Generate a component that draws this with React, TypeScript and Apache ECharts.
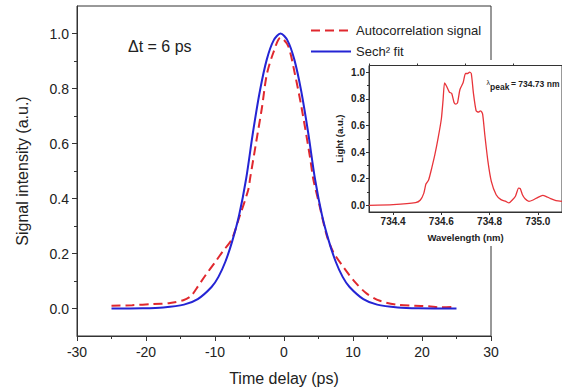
import React, { useEffect, useRef } from "react";
import * as echarts from "echarts";

// Main chart: autocorrelation trace (time delay in ps, normalized signal)
const acTime = [-25, -22, -19, -16.5, -14.6, -13.5, -12.7, -11.4, -10.0, -8.8, -7.6, -6.5, -5.2, -4.9, -4.0, -3.2, -2.5, -1.55, -0.5, 0.6, 1.6, 2.55, 3.77, 4.25, 5.0, 6.2, 7.15, 8.8, 10.3, 12.0, 13.9, 16.3, 19.0, 21.0, 22.5, 24.8];
const acSignal = [0.01, 0.012, 0.016, 0.02, 0.03, 0.045, 0.072, 0.12, 0.168, 0.21, 0.25, 0.33, 0.43, 0.475, 0.61, 0.73, 0.85, 0.93, 0.985, 0.955, 0.85, 0.73, 0.55, 0.47, 0.39, 0.265, 0.205, 0.144, 0.096, 0.054, 0.028, 0.014, 0.01, 0.008, 0.004, 0.006];

// Sech^2 fit
const fitTime = [-25, -20.5, -17.5, -14.5, -12.5, -10.5, -9.5, -8.5, -7.5, -6.5, -5.5, -4.5, -3.5, -2.5, -1.5, -0.5, 0.5, 1.5, 2.5, 3.5, 4.5, 5.5, 6.5, 7.5, 8.5, 9.5, 11.5, 13.5, 16.5, 19.5, 25];
const fitSignal = [0, 0.001, 0.004, 0.014, 0.034, 0.078, 0.115, 0.17, 0.245, 0.34, 0.47, 0.64, 0.79, 0.905, 0.975, 1.0, 0.975, 0.905, 0.79, 0.64, 0.47, 0.34, 0.245, 0.17, 0.115, 0.078, 0.034, 0.014, 0.004, 0.001, 0];

// Inset: spectrum
const specWl = [734.3, 734.4, 734.493, 734.513, 734.527, 734.536, 734.547, 734.56, 734.573, 734.587, 734.6, 734.607, 734.613, 734.62, 734.633, 734.643, 734.653, 734.66, 734.667, 734.677, 734.69, 734.7, 734.709, 734.717, 734.724, 734.733, 734.744, 734.753, 734.763, 734.771, 734.78, 734.793, 734.807, 734.827, 734.847, 734.867, 734.88, 734.893, 734.907, 734.92, 734.927, 734.936, 734.947, 734.963, 734.98, 735.0, 735.02, 735.033, 735.053, 735.075, 735.1];
const specLight = [0.0, 0.005, 0.02, 0.04, 0.09, 0.16, 0.19, 0.28, 0.38, 0.51, 0.65, 0.79, 0.92, 0.9, 0.85, 0.84, 0.77, 0.76, 0.77, 0.87, 0.92, 0.99, 0.99, 1.0, 0.99, 0.84, 0.71, 0.7, 0.71, 0.685, 0.53, 0.33, 0.18, 0.08, 0.043, 0.03, 0.018, 0.038, 0.068, 0.13, 0.126, 0.08, 0.05, 0.03, 0.04, 0.06, 0.075, 0.068, 0.05, 0.035, 0.03];

const mainYTicks = [0, 0.2, 0.4, 0.6, 0.8, 1.0];
const mainYMinor = [0.1, 0.3, 0.5, 0.7, 0.9];
const insetXTicks = [734.4, 734.6, 734.8, 735.0];
const insetXMinor = [734.3, 734.5, 734.7, 734.9, 735.1];
const insetYTicks = [0, 0.2, 0.4, 0.6, 0.8, 1.0];
const insetYMinor = [0.1, 0.3, 0.5, 0.7, 0.9];

const FONT = "'Liberation Sans', Arial, sans-serif";
const AX = "#333";

export default function App() {
  const ref = useRef<HTMLDivElement>(null);
  useEffect(() => {
    if (!ref.current) return;
    const chart = echarts.init(ref.current, undefined, { renderer: "svg" });
    const pairs = (xs: number[], ys: number[]) => xs.map((x, i) => [x, ys[i]]);
    const line = (show: boolean) => ({ show, onZero: false, lineStyle: { color: AX } });
    chart.setOption({
      animation: false,
      backgroundColor: "#fff",
      textStyle: { fontFamily: FONT },
      grid: [
        { left: 77, top: 6, width: 414, height: 332, show: true, borderColor: AX, borderWidth: 1, z: 0 },
        { left: 369, top: 65.5, width: 199, height: 146.5, show: true, borderColor: AX, borderWidth: 1, z: 3 },
      ],
      legend: {
        data: ["Autocorrelation signal", "Sech² fit"],
        orient: "vertical",
        left: 305,
        top: 19,
        itemWidth: 40,
        itemHeight: 14,
        itemGap: 8,
        itemStyle: { opacity: 0 },
        textStyle: { fontSize: 13, color: "#222", fontFamily: FONT },
      },
      xAxis: [
        {
          type: "value", gridIndex: 0, min: -30, max: 30, interval: 10,
          axisLine: line(true),
          axisTick: { show: true, length: 5, lineStyle: { color: AX } },
          minorTick: { show: true, splitNumber: 2, length: 3, lineStyle: { color: AX } },
          axisLabel: { fontSize: 14, color: "#222", margin: 9 },
          splitLine: { show: false },
          name: "Time delay (ps)", nameLocation: "middle", nameGap: 34,
          nameTextStyle: { fontSize: 16, color: "#222" },
        },
        {
          type: "value", gridIndex: 1, min: 734.3, max: 735.1, z: 3,
          axisLine: line(true),
          axisTick: { show: true, length: 3, customValues: insetXTicks, lineStyle: { color: AX } },
          axisLabel: { fontSize: 10, fontWeight: "bold", color: "#222", margin: 4, customValues: insetXTicks, formatter: (v: number) => v.toFixed(1) },
          splitLine: { show: false },
          name: "Wavelength (nm)", nameLocation: "middle", nameGap: 20,
          nameTextStyle: { fontSize: 9.5, fontWeight: "bold", color: "#222" },
        },
        {
          type: "value", gridIndex: 1, min: 734.3, max: 735.1, z: 3,
          axisLine: line(false),
          axisTick: { show: true, length: 2, customValues: insetXMinor, lineStyle: { color: AX } },
          axisLabel: { show: false },
          splitLine: { show: false },
        },
      ],
      yAxis: [
        {
          type: "value", gridIndex: 0, min: -0.1, max: 1.1, position: "left",
          axisLine: line(true),
          axisTick: { show: true, length: 5, customValues: mainYTicks, lineStyle: { color: AX } },
          axisLabel: { fontSize: 14, color: "#222", margin: 8, customValues: mainYTicks, formatter: (v: number) => v.toFixed(1) },
          splitLine: { show: false },
          name: "Signal intensity (a.u.)", nameLocation: "middle", nameGap: 47,
          nameTextStyle: { fontSize: 16, color: "#222" },
        },
        {
          type: "value", gridIndex: 0, min: -0.1, max: 1.1, position: "left", offset: 0,
          axisLine: line(false),
          axisTick: { show: true, length: 3, customValues: mainYMinor, lineStyle: { color: AX } },
          axisLabel: { show: false },
          splitLine: { show: false },
        },
        {
          type: "value", gridIndex: 1, min: -0.05, max: 1.05, position: "left", z: 3,
          axisLine: line(true),
          axisTick: { show: true, length: 3, customValues: insetYTicks, lineStyle: { color: AX } },
          axisLabel: { fontSize: 10, fontWeight: "bold", color: "#222", margin: 4, customValues: insetYTicks, formatter: (v: number) => v.toFixed(1) },
          splitLine: { show: false },
          name: "Light (a.u.)", nameLocation: "middle", nameGap: 25,
          nameTextStyle: { fontSize: 9.5, fontWeight: "bold", color: "#222" },
        },
        {
          type: "value", gridIndex: 1, min: -0.05, max: 1.05, position: "left", offset: 0, z: 3,
          axisLine: line(false),
          axisTick: { show: true, length: 2, customValues: insetYMinor, lineStyle: { color: AX } },
          axisLabel: { show: false },
          splitLine: { show: false },
        },
      ],
      series: [
        {
          name: "Autocorrelation signal", type: "line", xAxisIndex: 0, yAxisIndex: 0,
          data: pairs(acTime, acSignal), showSymbol: false, symbol: "none", smooth: 0.3, z: 2,
          lineStyle: { color: "#e0282e", width: 2, type: [9, 5] },
          itemStyle: { color: "#e0282e" },
        },
        {
          name: "Sech² fit", type: "line", xAxisIndex: 0, yAxisIndex: 0,
          data: pairs(fitTime, fitSignal), showSymbol: false, symbol: "none", smooth: 0.3, z: 2,
          lineStyle: { color: "#2424d4", width: 2 },
          itemStyle: { color: "#2424d4" },
        },
        {
          name: "Spectrum", type: "line", xAxisIndex: 1, yAxisIndex: 2,
          data: pairs(specWl, specLight), showSymbol: false, symbol: "none", smooth: 0.2, z: 5,
          lineStyle: { color: "#e8343a", width: 1.3 },
          itemStyle: { color: "#e8343a" },
        },
      ],
      graphic: [
        { type: "rect", z: 1, shape: { x: 331, y: 60, width: 240, height: 186 }, style: { fill: "#fff" } },
        { type: "text", z: 10, x: 128, y: 46, style: { text: "Δt = 6 ps", fontSize: 16, fill: "#222", fontFamily: FONT, verticalAlign: "middle" } },
        { type: "text", z: 10, x: 486.5, y: 82.5, style: { text: "λ", fontSize: 7, fill: "#222", fontFamily: FONT, verticalAlign: "middle" } },
        { type: "text", z: 10, x: 490, y: 87, style: { text: "peak", fontSize: 8.5, fontWeight: "bold", fill: "#222", fontFamily: FONT, verticalAlign: "middle" } },
        { type: "text", z: 10, x: 511, y: 84, style: { text: "= 734.73 nm", fontSize: 8.5, fontWeight: "bold", fill: "#222", fontFamily: FONT, verticalAlign: "middle" } },
      ],
    });
    return () => chart.dispose();
  }, []);
  return <div ref={ref} style={{ position: "absolute", left: 0, top: 0, width: 562, height: 391 }} />;
}
